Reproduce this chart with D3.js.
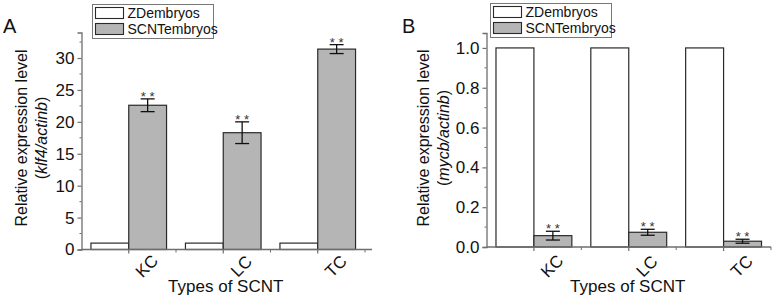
<!DOCTYPE html>
<html>
<head>
<meta charset="utf-8">
<script src="https://cdn.jsdelivr.net/npm/d3@7"></script>
<style>
  body { margin: 0; background: #fff; }
  svg text { font-family: "Liberation Sans", Arial, sans-serif; }
</style>
</head>
<body>
<div id="chart"></div>
<script>
// data
var categories = ["KC", "LC", "TC"];
var seriesNames = ["ZDembryos", "SCNTembryos"];

var klf4ZD = [1, 1, 1];
var klf4SCNT = [22.6, 18.3, 31.4];
var klf4Err = [1.0, 1.7, 0.7];
var klf4Ticks = [0, 5, 10, 15, 20, 25, 30];

var mycbZD = [1, 1, 1];
var mycbSCNT = [0.057, 0.074, 0.029];
var mycbErr = [0.022, 0.015, 0.010];
var mycbTicks = [0, 0.2, 0.4, 0.6, 0.8, 1.0];

var svg = d3.select("#chart")
    .append("svg")
    .attr("width", 780)
    .attr("height", 299);

var axisColor = "#6e6e6e",
    barStroke = "#2a2a2a",
    grayFill = "#b5b5b5";

function drawPanel(p) {
  var g = svg.append("g");

  // x scale on category index, bars are 40% of a group each
  var x = d3.scaleLinear().domain(p.xDomain).range([p.left, p.right]);
  var step = x(1) - x(0);
  var bw = step * 0.4;

  var y = d3.scaleLinear().domain(p.yDomain).range([p.bottom, p.top]);

  // bars
  categories.forEach(function(c, i) {
    var cx = x(i);
    g.append("rect")
        .attr("x", cx - bw).attr("y", y(p.zd[i]))
        .attr("width", bw).attr("height", y(0) - y(p.zd[i]))
        .attr("fill", "#fff").attr("stroke", barStroke).attr("stroke-width", 1.2);
    g.append("rect")
        .attr("x", cx).attr("y", y(p.scnt[i]))
        .attr("width", bw).attr("height", y(0) - y(p.scnt[i]))
        .attr("fill", grayFill).attr("stroke", barStroke).attr("stroke-width", 1.2);

    // error bar
    var ex = cx + bw / 2,
        hi = y(p.scnt[i] + p.err[i]),
        lo = y(p.scnt[i] - p.err[i]);
    g.append("line").attr("x1", ex).attr("x2", ex).attr("y1", hi).attr("y2", lo)
        .attr("stroke", "#111").attr("stroke-width", 1.3);
    [hi, lo].forEach(function(v) {
      g.append("line").attr("x1", ex - 7).attr("x2", ex + 7).attr("y1", v).attr("y2", v)
          .attr("stroke", "#111").attr("stroke-width", 1.3);
    });
    g.append("text")
        .attr("x", ex).attr("y", hi + 2)
        .attr("text-anchor", "middle")
        .attr("font-size", 13).attr("fill", "#333")
        .text("* *");
  });

  // y axis
  var yAxis = g.append("g")
      .attr("transform", "translate(" + p.left + ",0)")
      .call(d3.axisLeft(y).tickValues(p.yTicks).tickSize(4).tickPadding(3)
        .tickFormat(p.yFormat));
  yAxis.select(".domain").attr("stroke", axisColor).attr("stroke-width", 1.3);
  yAxis.selectAll(".tick line").attr("stroke", axisColor).attr("stroke-width", 1.2);
  yAxis.selectAll(".tick text").attr("font-size", 17).attr("fill", "#111")
      .attr("font-family", "Liberation Sans, Arial, sans-serif");

  // minor y ticks
  var minors = [];
  for (var k = 0; k < p.yTicks.length; k++) {
    var m = p.yTicks[k] + p.minorStep;
    if (m < p.yDomain[1]) minors.push(m);
  }
  g.selectAll(".ymin").data(minors).enter().append("line")
      .attr("x1", p.left - 2).attr("x2", p.left)
      .attr("y1", function(d) { return y(d); }).attr("y2", function(d) { return y(d); })
      .attr("stroke", axisColor).attr("stroke-width", 1);

  // x axis line
  g.append("line")
      .attr("x1", p.left).attr("x2", p.axisEnd)
      .attr("y1", y(0)).attr("y2", y(0))
      .attr("stroke", axisColor).attr("stroke-width", 1.3);
  categories.forEach(function(c, i) {
    g.append("line")
        .attr("x1", x(i)).attr("x2", x(i)).attr("y1", y(0)).attr("y2", y(0) + 4)
        .attr("stroke", axisColor).attr("stroke-width", 1.2);
    g.append("line")
        .attr("x1", x(i + 0.5)).attr("x2", x(i + 0.5)).attr("y1", y(0)).attr("y2", y(0) + 3)
        .attr("stroke", axisColor).attr("stroke-width", 1);
    g.append("text")
        .attr("transform", "translate(" + (x(i) + 18) + "," + 266 + ") rotate(-45)")
        .attr("text-anchor", "middle")
        .attr("dy", "0.35em")
        .attr("font-size", 17).attr("fill", "#111")
        .text(c);
  });

  // axis titles
  g.append("text")
      .attr("x", (p.left + p.axisEnd) / 2 - 1).attr("y", 292)
      .attr("text-anchor", "middle").attr("font-size", 17).attr("fill", "#111")
      .text("Types of SCNT");

  var yt = g.append("text")
      .attr("transform", "translate(" + p.titleX + ",138) rotate(-90)")
      .attr("text-anchor", "middle").attr("font-size", 16).attr("fill", "#111");
  yt.append("tspan").attr("x", 0).attr("dy", 0).text("Relative expression level");
  var l2 = yt.append("tspan").attr("x", 0).attr("dy", 20);
  l2.append("tspan").text("(");
  l2.append("tspan").attr("font-style", "italic").text(p.gene + "/actinb");
  l2.append("tspan").text(")");

  // panel letter
  g.append("text")
      .attr("x", p.letterX).attr("y", 33)
      .attr("font-size", 20).attr("fill", "#111")
      .text(p.letter);

  // legend
  var lg = g.append("g").attr("transform", "translate(" + p.legendX + "," + p.legendY + ")");
  lg.append("rect").attr("width", 121).attr("height", 34)
      .attr("fill", "#fff").attr("stroke", "#777").attr("stroke-width", 1);
  seriesNames.forEach(function(s, i) {
    lg.append("rect")
        .attr("x", 3).attr("y", 3 + i * 16).attr("width", 28).attr("height", 11)
        .attr("fill", i === 0 ? "#fff" : grayFill)
        .attr("stroke", barStroke).attr("stroke-width", 1.1);
    lg.append("text")
        .attr("x", 35).attr("y", 13.5 + i * 16)
        .attr("font-size", 14).attr("fill", "#111")
        .text(s);
  });
}

drawPanel({
  zd: klf4ZD, scnt: klf4SCNT, err: klf4Err,
  yTicks: klf4Ticks, minorStep: 2.5, yDomain: [0, 34],
  yFormat: d3.format("d"),
  xDomain: [-0.5, 2.5], left: 81.5, right: 365, axisEnd: 372,
  top: 32.5, bottom: 249.5,
  titleX: 27, gene: "klf4", letter: "A", letterX: 3,
  legendX: 92.5, legendY: 4.5
});

drawPanel({
  zd: mycbZD, scnt: mycbSCNT, err: mycbErr,
  yTicks: mycbTicks, minorStep: 0.1, yDomain: [0, 1.075],
  yFormat: d3.format(".1f"),
  xDomain: [-0.5, 2.5], left: 486.5, right: 771, axisEnd: 771,
  top: 33, bottom: 247,
  titleX: 429, gene: "mycb", letter: "B", letterX: 402,
  legendX: 490.5, legendY: 3.5
});
</script>
</body>
</html>
